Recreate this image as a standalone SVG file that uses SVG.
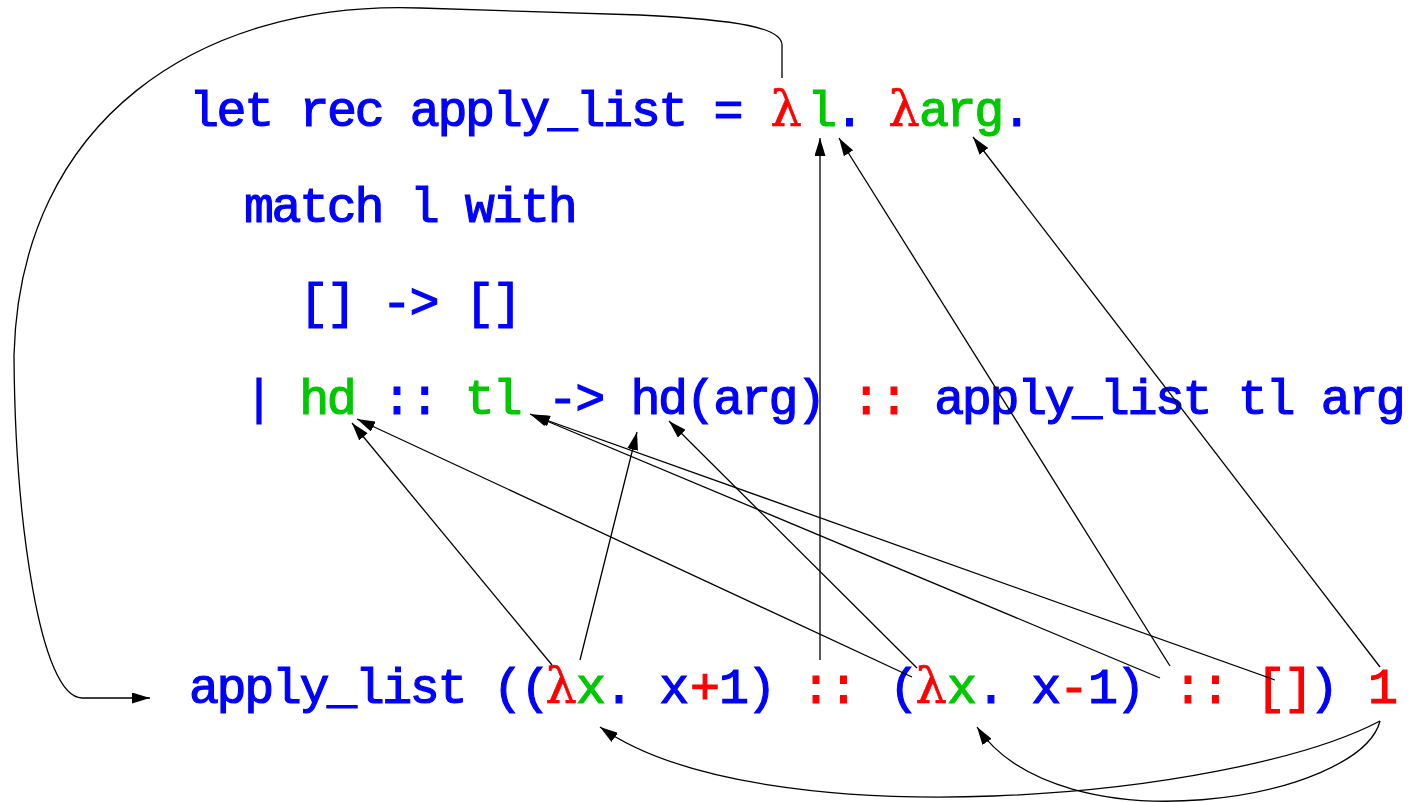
<svg xmlns="http://www.w3.org/2000/svg" width="1427" height="802" viewBox="0 0 1427 802">
  <style>
    .tt { font-family: "Liberation Mono", "Courier New", monospace; font-weight: normal; font-size: 50px; letter-spacing: -2.4px; stroke-width: 1.2px; }
    .lam { font-family: "DejaVu Serif", "Liberation Serif", serif; font-size: 50px; fill: #ff0000; stroke: #ff0000; stroke-width: 0.6px; text-anchor: middle; }
    .b { fill: #0000ff; stroke: #0000ff; }
    .g { fill: #00c800; stroke: #00c800; }
    .r { fill: #ff0000; stroke: #ff0000; }
    .wire { fill: none; stroke: #000; stroke-width: 1.3; }
  </style>
  <defs>
    <marker id="arrow" markerUnits="userSpaceOnUse" markerWidth="18" markerHeight="11" refX="18" refY="5.5" orient="auto">
      <path d="M0,0 L18,5.5 L0,11 z" fill="#000"/>
    </marker>
  </defs>

  <rect width="1427" height="802" fill="#fff"/>

  <!-- definition header -->
  <g id="line-def">
    <text class="tt" y="126" xml:space="preserve"><tspan class="b" x="189">let rec apply_list =</tspan><tspan class="g" x="807">l</tspan><tspan class="b">.</tspan><tspan class="g" x="919">arg</tspan><tspan class="b">.</tspan></text>
    <text class="lam" x="786" y="126">λ</text>
    <text class="lam" x="904" y="126">λ</text>
  </g>

  <g id="line-match">
    <text class="tt b" x="244" y="222" xml:space="preserve">match l with</text>
  </g>

  <g id="line-nil">
    <text class="tt b" x="299" y="318" xml:space="preserve">[] -&gt; []</text>
  </g>

  <g id="line-cons">
    <text class="tt" x="244" y="414" xml:space="preserve"><tspan class="b">| </tspan><tspan class="g">hd</tspan><tspan class="b"> :: </tspan><tspan class="g">tl</tspan><tspan class="b"> -&gt; hd(arg) </tspan><tspan class="r">::</tspan><tspan class="b"> apply_list tl arg</tspan></text>
  </g>

  <!-- the call -->
  <g id="line-call">
    <text class="tt" y="703" xml:space="preserve"><tspan class="b" x="189">apply_list ((</tspan><tspan class="g" x="576">x</tspan><tspan class="b" x="604">. x</tspan><tspan class="r" x="690">+</tspan><tspan class="b" x="719">1)</tspan><tspan class="r" x="801">::</tspan><tspan class="b" x="889">(</tspan><tspan class="g" x="947">x</tspan><tspan class="b" x="976">. x</tspan><tspan class="r" x="1059">-</tspan><tspan class="b" x="1088">1)</tspan><tspan class="r" x="1173">::</tspan><tspan class="r" x="1256">[]</tspan><tspan class="b" x="1309">)</tspan><tspan class="r" x="1368">1</tspan></text>
    <text class="lam" x="561" y="703">λ</text>
    <text class="lam" x="931" y="703">λ</text>
  </g>

  <g id="connectors" class="wire" marker-end="url(#arrow)">
    <!-- recursive call loops back to the call site -->
    <path d="M782,78 L782,45 C782,28 740,20 640,15 L420,8 C200,0 20,120 14,355 C15,520 40,698 82,698 L150,698"/>
    <!-- list binds to l -->
    <path d="M820,660 L820,138"/>
    <path d="M1170,666 L839,138"/>
    <!-- argument binds to arg -->
    <path d="M1380,667 L973,137"/>
    <!-- head / tail bindings -->
    <path d="M552,665 L352,423"/>
    <path d="M912,677 L357,419"/>
    <path d="M1160,678 L530,414"/>
    <path d="M1275,680 L532,415"/>
    <!-- hd(arg) -->
    <path d="M580,660 L637,432"/>
    <path d="M917,668 L669,421"/>
    <!-- argument applied to each function -->
    <path d="M1380,721 C1230,800 760,840 600,727"/>
    <path d="M1380,721 C1360,800 1060,850 977,727"/>
  </g>
</svg>
